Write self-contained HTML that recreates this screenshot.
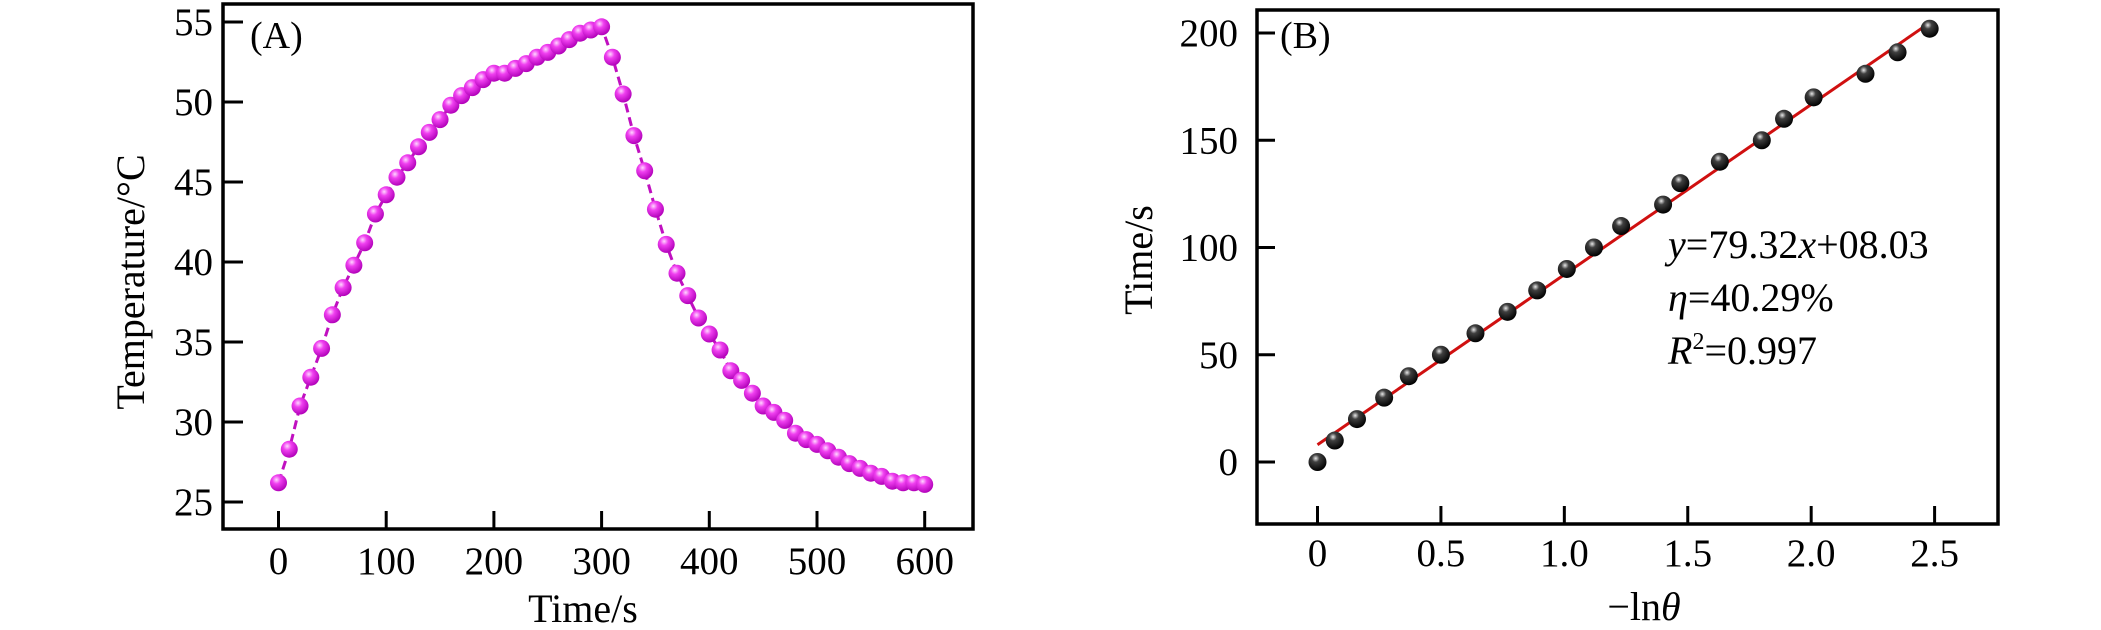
<!DOCTYPE html>
<html><head><meta charset="utf-8">
<style>
html,body{margin:0;padding:0;background:#fff;}
svg{display:block;font-family:"Liberation Serif",serif;}
</style></head>
<body>
<svg id="chart" width="2101" height="630" viewBox="0 0 2101 630" xmlns="http://www.w3.org/2000/svg">
<defs>
<radialGradient id="gm" cx="0.38" cy="0.32" r="0.7">
<stop offset="0" stop-color="#ffd8ff"/><stop offset="0.35" stop-color="#f040f0"/><stop offset="1" stop-color="#b000b8"/>
</radialGradient>
<radialGradient id="gk" cx="0.4" cy="0.3" r="0.7">
<stop offset="0" stop-color="#e8e8e8"/><stop offset="0.3" stop-color="#404040"/><stop offset="1" stop-color="#000"/>
</radialGradient>
</defs>
<g id="pa"></g>
<g id="pb"></g>
</svg>
<script>
// Panel A data
const timeA = [0,10,20,30,40,50,60,70,80,90,100,110,120,130,140,150,160,170,180,190,200,210,220,230,240,250,260,270,280,290,300,310,320,330,340,350,360,370,380,390,400,410,420,430,440,450,460,470,480,490,500,510,520,530,540,550,560,570,580,590,600];
const tempA = [26.2,28.3,31.0,32.8,34.6,36.7,38.4,39.8,41.2,43.0,44.2,45.3,46.2,47.2,48.1,48.9,49.8,50.4,50.9,51.4,51.8,51.8,52.1,52.4,52.8,53.1,53.5,53.9,54.3,54.5,54.7,52.8,50.5,47.9,45.7,43.3,41.1,39.3,37.9,36.5,35.5,34.5,33.2,32.6,31.8,31.0,30.6,30.1,29.3,28.9,28.6,28.2,27.8,27.4,27.1,26.8,26.6,26.3,26.2,26.2,26.1];
const xTicksA = [0,100,200,300,400,500,600];
const yTicksA = [25,30,35,40,45,50,55];
// Panel B data
const lnB = [0,0.07,0.16,0.27,0.37,0.5,0.64,0.77,0.89,1.01,1.12,1.23,1.40,1.47,1.63,1.80,1.89,2.01,2.22,2.35,2.48];
const timeB = [0,10,20,30,40,50,60,70,80,90,100,110,120,130,140,150,160,170,181,191,202];
const fitB = [79.32, 8.03];
const xTicksB = [0,0.5,1.0,1.5,2.0,2.5];
const xTickLabelsB = ["0","0.5","1.0","1.5","2.0","2.5"];
const yTicksB = [0,50,100,150,200];

const NS="http://www.w3.org/2000/svg";
function mk(parent,tag,attrs,text){const e=document.createElementNS(NS,tag);for(const k in attrs)e.setAttribute(k,attrs[k]);if(text!==undefined)e.textContent=text;parent.appendChild(e);return e;}

// Panel A axes
const A={l:223,r:973,t:4,b:529};
const xa=v=>278.5+(v-0)*(924.7-278.5)/600;
const ya=v=>502-(v-25)*16;
const pa=document.getElementById('pa');
let fr=mk(pa,'rect',{x:A.l,y:A.t,width:A.r-A.l,height:A.b-A.t,fill:'none',stroke:'#000','stroke-width':3.5});


xTicksA.forEach(v=>{
  let t=mk(pa,'line',{x1:xa(v),x2:xa(v),y1:A.b,y2:A.b-18,stroke:'#000','stroke-width':3});
  
  
  let l=mk(pa,'text',{x:xa(v),y:574,'font-size':39,'text-anchor':'middle'},String(v));
  
  
});
yTicksA.forEach(v=>{
  let t=mk(pa,'line',{x1:A.l,x2:A.l+20,y1:ya(v),y2:ya(v),stroke:'#000','stroke-width':3});
  
  
  let l=mk(pa,'text',{x:213,y:ya(v)+13,'font-size':39,'text-anchor':'end'},String(v));
  
  
});
let ta=mk(pa,'text',{x:583,y:622,'font-size':40,'text-anchor':'middle'},'Time/s');


let tya=mk(pa,'text',{x:0,y:0,'font-size':40,'text-anchor':'middle',transform:'translate(144,282) rotate(-90)'},'Temperature/°C');


let la=mk(pa,'text',{x:250,y:48,'font-size':38},'(A)');


let pts=timeA.map((t,i)=>xa(t)+','+ya(tempA[i])).join(' ');
let pl=mk(pa,'polyline',{points:pts,fill:'none',stroke:'#c010c0','stroke-width':3,'stroke-dasharray':'9,5'});


timeA.forEach((t,i)=>{
  let c=mk(pa,'circle',{cx:xa(t),cy:ya(tempA[i]),r:8.5,fill:'url(#gm)'});
  
  
});

// Panel B axes
const B={l:1257,r:1998,t:10,b:524};
const xb=v=>1317.5+v*(1934.6-1317.5)/2.5;
const yb=v=>462-v*(462-33)/200;
const pb=document.getElementById('pb');
let fb=mk(pb,'rect',{x:B.l,y:B.t,width:B.r-B.l,height:B.b-B.t,fill:'none',stroke:'#000','stroke-width':3.5});


xTicksB.forEach((v,i)=>{
  let t=mk(pb,'line',{x1:xb(v),x2:xb(v),y1:B.b,y2:B.b-18,stroke:'#000','stroke-width':3});
  
  
  let l=mk(pb,'text',{x:xb(v),y:566,'font-size':39,'text-anchor':'middle'},xTickLabelsB[i]);
  
  
});
yTicksB.forEach(v=>{
  let t=mk(pb,'line',{x1:B.l,x2:B.l+18,y1:yb(v),y2:yb(v),stroke:'#000','stroke-width':3});
  
  
  let l=mk(pb,'text',{x:1238,y:yb(v)+13,'font-size':39,'text-anchor':'end'},String(v));
  
  
});
let tb=mk(pb,'text',{x:1644,y:620,'font-size':40,'text-anchor':'middle'});


tb.innerHTML='−ln<tspan font-style="italic">θ</tspan>';
let tyb=mk(pb,'text',{x:0,y:0,'font-size':40,'text-anchor':'middle',transform:'translate(1152,260) rotate(-90)'},'Time/s');


let lb=mk(pb,'text',{x:1280,y:48,'font-size':38},'(B)');


const x0=lnB[0], x1=lnB[lnB.length-1];
let fl=mk(pb,'line',{x1:xb(x0),y1:yb(fitB[0]*x0+fitB[1]),x2:xb(x1),y2:yb(fitB[0]*x1+fitB[1]),stroke:'#d01010','stroke-width':3});


lnB.forEach((v,i)=>{
  let c=mk(pb,'circle',{cx:xb(v),cy:yb(timeB[i]),r:9,fill:'url(#gk)'});
  
  
});
let eq=mk(pb,'text',{x:1668,y:258,'font-size':40});


eq.innerHTML='<tspan font-style="italic">y</tspan>=79.32<tspan font-style="italic">x</tspan>+08.03';
let eta=mk(pb,'text',{x:1668,y:311,'font-size':40});


eta.innerHTML='<tspan font-style="italic">η</tspan>=40.29%';
let r2=mk(pb,'text',{x:1668,y:364,'font-size':40});


r2.innerHTML='<tspan font-style="italic">R</tspan><tspan font-size="24" dy="-15">2</tspan><tspan dy="15">=0.997</tspan>';
</script>
</body></html>
